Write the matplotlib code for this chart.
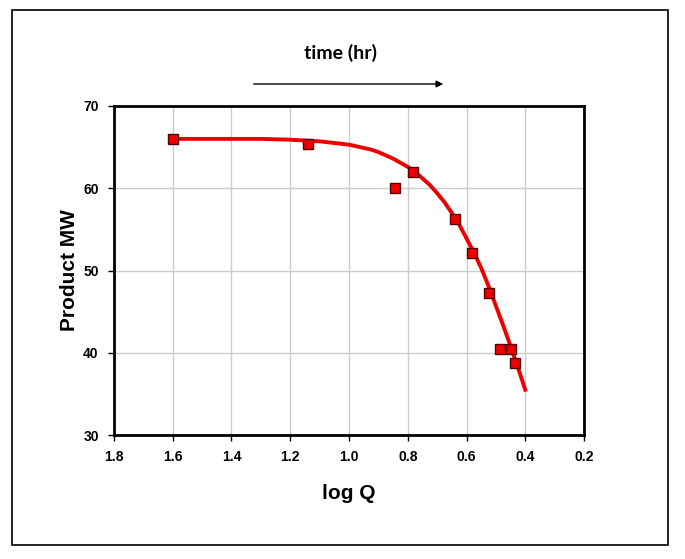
import numpy as np
import matplotlib.pyplot as plt
from matplotlib.patches import Rectangle, FancyArrowPatch

plt.rcParams['font.family'] = ['Liberation Sans', 'DejaVu Sans']

# measured points
log_q = [1.60, 1.14, 0.843, 0.782, 0.639, 0.580, 0.523, 0.487, 0.447, 0.434]
product_mw = [66.0, 65.4, 60.0, 62.0, 56.3, 52.1, 47.3, 40.5, 40.4, 38.8]

# fitted trend line
fit_x = [1.6, 1.4, 1.3, 1.2, 1.15, 1.1, 1.05, 1.0, 0.975, 0.95, 0.925, 0.9,
         0.875, 0.85, 0.825, 0.8, 0.775, 0.75, 0.725, 0.7, 0.675, 0.65,
         0.625, 0.6, 0.575, 0.55, 0.525, 0.5, 0.475, 0.45, 0.425, 0.4]
fit_y = [66.0, 66.0, 66.0, 65.9, 65.8, 65.7, 65.5, 65.3, 65.1, 64.9, 64.7, 64.4,
         64.0, 63.6, 63.1, 62.6, 62.0, 61.2, 60.4, 59.4, 58.3, 57.0,
         55.6, 53.9, 52.2, 50.3, 48.1, 45.7, 43.3, 40.8, 38.2, 35.5]

xticks = [1.8, 1.6, 1.4, 1.2, 1.0, 0.8, 0.6, 0.4, 0.2]
yticks = [30, 40, 50, 60, 70]

fig = plt.figure(figsize=(6.85, 5.59), dpi=100)
ax = fig.add_axes([0.1664, 0.2218, 0.6862, 0.5886])

ax.plot(fit_x, fit_y, color='#ee0000', lw=2.8, zorder=3)
ax.plot(log_q, product_mw, 's', ms=7.5, mfc='#ee0000', mec='#550000', mew=1.0, zorder=4)

ax.set_xlim(1.8, 0.2)
ax.set_ylim(30, 70)
ax.set_xticks(xticks)
ax.set_xticklabels(['%.1f' % t for t in xticks])
ax.set_yticks(yticks)
ax.grid(color='#cccccc', lw=1.0)
ax.set_axisbelow(True)
for s in ax.spines.values():
    s.set_linewidth(2)
ax.tick_params(direction='out', length=4, width=1, labelsize=10, pad=7)
for lab in ax.get_xticklabels() + ax.get_yticklabels():
    lab.set_fontweight('bold')

ax.set_xlabel('log Q', fontsize=15, fontweight='bold', labelpad=14)
ax.set_ylabel('Product MW', fontsize=15, fontweight='bold', labelpad=3)

fig.text(340/685, 1 - 53/559, 'time (hr)', fontsize=14, fontweight='bold',
         family=['Lato', 'DejaVu Sans'], ha='center', va='center')
arrow = FancyArrowPatch((251/685, 1 - 84/559), (446/685, 1 - 84/559),
                        transform=fig.transFigure, arrowstyle='-|>',
                        mutation_scale=10, lw=1, color='black')
fig.patches.append(arrow)

fig.patches.append(Rectangle((12/685, 1 - 545/559), 656/685, 535/559,
                             transform=fig.transFigure, fill=False,
                             edgecolor='black', lw=1.2))

plt.savefig('out.png', dpi=100)
